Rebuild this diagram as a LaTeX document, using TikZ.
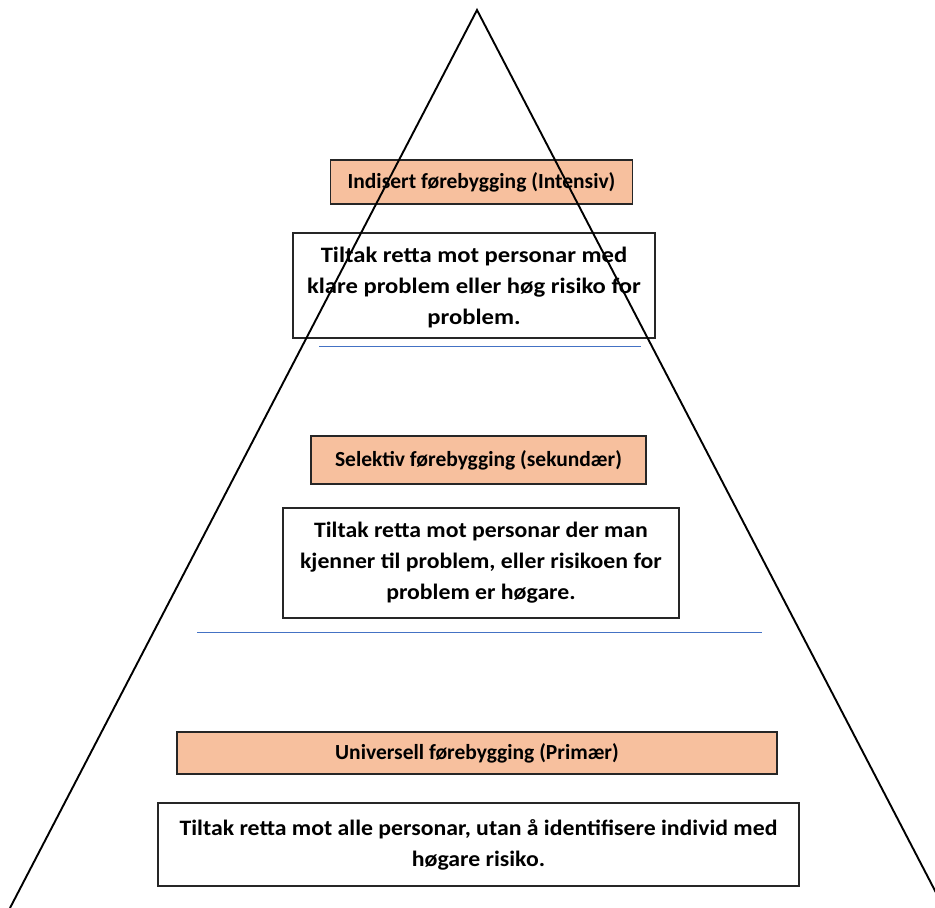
\documentclass[tikz,border=0pt]{standalone}
\usepackage{fontspec}
\setmainfont{Carlito}
\newfontfamily\bodyFont[FakeStretch=1.08]{Carlito}
\newfontfamily\wideFont[FakeStretch=1.12]{Carlito}
\definecolor{levelOrange}{HTML}{F7C09E}
\definecolor{lineBlue}{HTML}{4472C4}
\begin{document}
\begin{tikzpicture}[x=1pt,y=-1pt,
    level/.style={draw=black!85, fill=levelOrange, line width=1.1pt, inner sep=0pt,
      font=\bfseries\fontsize{21.5}{26}\selectfont},
    info/.style={draw=black!85, fill=white, line width=1.1pt, inner sep=0pt, align=center,
      font=\bodyFont\bfseries\fontsize{22}{31}\selectfont},
    divider/.style={lineBlue, line width=1.2pt},
    edge/.style={black, line width=1.9pt}]
	% page frame
	\useasboundingbox (0,0) rectangle (935,908);
	\clip (0,0) rectangle (935,908);
	% top level
	\node[level, minimum width=302, minimum height=44] (intensiv) at (481.5,182) {Indisert førebygging (Intensiv)};
	\node[info, minimum width=362, minimum height=105, font=\wideFont\bfseries\fontsize{22}{31}\selectfont] (intensivInfo) at (474,285.5)
		{\rule{0pt}{20pt}Tiltak retta mot personar med\\klare problem eller høg risiko for\\problem.};
	% middle level
	\node[level, minimum width=335, minimum height=48] (selektiv) at (478.5,460) {Selektiv førebygging (sekundær)};
	\node[info, minimum width=396, minimum height=110] (selektivInfo) at (481,563)
		{Tiltak retta mot personar der man\\kjenner til problem, eller risikoen for\\problem er høgare.};
	% bottom level
	\node[level, minimum width=600, minimum height=42] (universell) at (477,753) {Universell førebygging (Primær)};
	\node[info, minimum width=641, minimum height=83] (universellInfo) at (478.5,844.5)
		{Tiltak retta mot alle personar, utan å identifisere individ med\\høgare risiko.};
	% dividers
	\coordinate (divOneL) at (319,346.5);
	\coordinate (divOneR) at (641,346.5);
	\coordinate (divTwoL) at (197,632.5);
	\coordinate (divTwoR) at (762,632.5);
	\draw[divider] (divOneL) -- (divOneR);
	\draw[divider] (divTwoL) -- (divTwoR);
	% pyramid sides
	\coordinate (apex) at (477,10);
	\coordinate (baseL) at (10,908);
	\coordinate (baseR) at (944,908);
	\draw[edge, line join=miter] (baseL) -- (apex) -- (baseR);
\end{tikzpicture}
\end{document}
